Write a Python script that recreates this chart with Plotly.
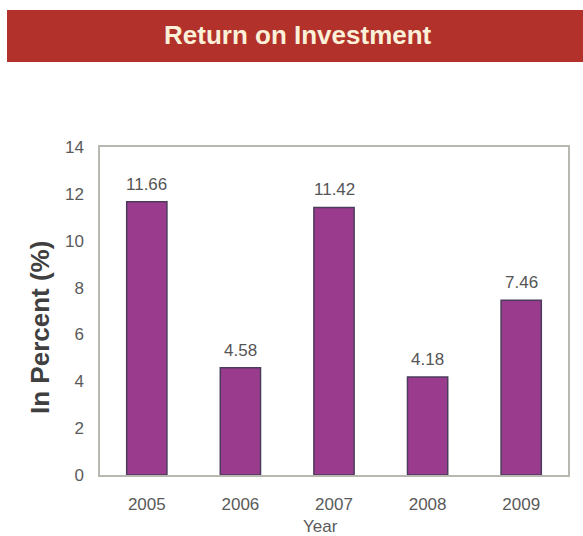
import plotly.graph_objects as go

# Return on investment by year (percent)
years = ["2005", "2006", "2007", "2008", "2009"]
roi = [11.66, 4.58, 11.42, 4.18, 7.46]
roi_labels = ["11.66", "4.58", "11.42", "4.18", "7.46"]
y_ticks = [0, 2, 4, 6, 8, 10, 12, 14]

W, H = 583, 536
L, R, T, B = 100, 15, 147, 61
pw, ph = W - L - R, H - T - B
FONT = "Liberation Sans, Arial"


def px_x(x):
    return (x - L) / pw


def px_y(y):
    return (H - B - y) / ph


fig = go.Figure(
    go.Bar(
        x=years,
        y=roi,
        marker=dict(color="#9a3b8e", line=dict(color="#4c3c5c", width=1.5)),
        width=0.43,
        hoverinfo="x+y",
    )
)

# Value labels sitting above each bar (category index positions)
for i, (val, lab) in enumerate(zip(roi, roi_labels)):
    fig.add_annotation(
        x=i, y=val, text=lab, showarrow=False,
        xanchor="center", yanchor="bottom", yshift=6,
        font=dict(family=FONT, size=17, color="#555555"),
    )

# Red title banner across the top
fig.add_shape(
    type="rect", xref="paper", yref="paper",
    x0=px_x(7), x1=px_x(590), y0=px_y(62), y1=px_y(10),
    fillcolor="#b3312b", line=dict(width=0), layer="above",
)
fig.add_annotation(
    text="<b>Return on Investment</b>", xref="paper", yref="paper",
    x=px_x(298), y=px_y(35), showarrow=False,
    font=dict(family=FONT, size=26, color="#fbf0d8"),
    xanchor="center", yanchor="middle",
)

# Axis titles
fig.add_annotation(
    text="Year", xref="paper", yref="paper",
    x=px_x(320), y=px_y(526), showarrow=False,
    font=dict(family=FONT, size=17, color="#5a5a5a"),
    xanchor="center", yanchor="middle",
)
fig.add_annotation(
    text="<b>In Percent (%)</b>", xref="paper", yref="paper",
    x=px_x(40), y=px_y(328), showarrow=False, textangle=-90,
    font=dict(family=FONT, size=26, color="#404040"),
    xanchor="center", yanchor="middle",
)

fig.update_layout(
    width=W, height=H,
    margin=dict(l=L, r=R, t=T, b=B),
    paper_bgcolor="white", plot_bgcolor="white",
    showlegend=False,
    font=dict(family=FONT, color="#555555"),
    xaxis=dict(
        type="category", range=[-0.5, len(years) - 0.5],
        showline=True, linecolor="#b8b8b0", linewidth=1.5, mirror=True,
        ticks="", tickfont=dict(size=17, color="#5a5a5a"),
        ticklabelstandoff=13,
    ),
    yaxis=dict(
        range=[0, 14], tickvals=y_ticks,
        showline=True, linecolor="#b8b8b0", linewidth=1.5, mirror=True,
        showgrid=False, zeroline=False, ticks="",
        tickfont=dict(size=17, color="#5a5a5a"), ticklabelstandoff=11,
    ),
)

fig.write_html("out.html")
